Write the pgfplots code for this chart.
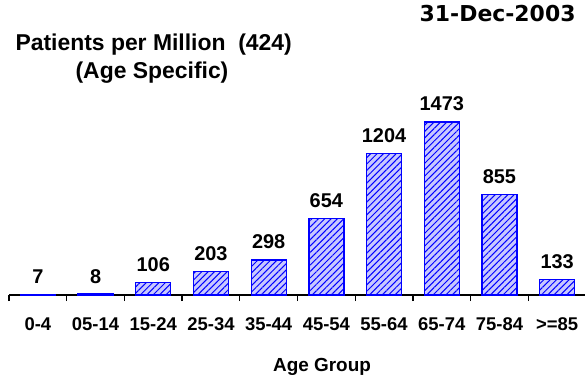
\documentclass[border=0pt]{standalone}
\usepackage{fontspec}
\setmainfont{Liberation Sans}
\newfontfamily\datefont{DejaVu Sans}
\usepackage{pgfplots}
\pgfplotsset{compat=1.18}
\usetikzlibrary{patterns.meta}
\definecolor{barblue}{RGB}{0,0,255}
\definecolor{barfill}{RGB}{200,200,255}

\pgfplotstableread{
idx value
0 7
1 8
2 106
3 203
4 298
5 654
6 1204
7 1473
8 855
9 133
}\patients

\begin{document}
\begin{tikzpicture}[x=1bp,y=1bp]
\useasboundingbox (0,0) rectangle (585,378);
\begin{axis}[
  at={(9bp,83bp)}, anchor=south west,
  scale only axis, width=577bp, height=176.2bp,
  xmin=-0.5, xmax=9.5, ymin=0, ymax=1500,
  axis x line*=bottom, axis y line=none,
  axis line style={black, line width=1.3bp},
  ybar, bar width=35bp,
  xtick={-0.5,0.5,...,9.5}, x tick label as interval,
  xticklabels={0-4,05-14,15-24,25-34,35-44,45-54,55-64,65-74,75-84,{>=85}},
  tick align=outside, major tick length=6bp,
  x tick style={black, line width=1.3bp},
  xticklabel style={font=\fontsize{18.5}{20}\selectfont\bfseries, anchor=base, yshift=-29bp},
  /pgf/number format/.cd, assume math mode=true, 1000 sep={}, /pgfplots/.cd,
  nodes near coords,
  every node near coord/.append style={font=\fontsize{20}{22}\selectfont\bfseries, anchor=base, yshift=11bp, black},
  clip=false,
]
\addplot[draw=barblue, line width=1.3bp, fill=barfill,
  postaction={pattern={Lines[angle=45, distance=4.5bp, line width=1bp]}, pattern color=barblue}]
  table[x=idx, y=value] {\patients};
\end{axis}
\node[anchor=west, font=\fontsize{23}{26}\selectfont\bfseries] at (12,333) {Patients per Million~~(424)};
\node[font=\fontsize{23}{26}\selectfont\bfseries] at (152,305) {(Age Specific)};
\node[anchor=east, font=\fontsize{22}{24}\selectfont\datefont\bfseries] at (579,364) {31-Dec-2003};
\node[font=\fontsize{19}{22}\selectfont\bfseries] at (322,11) {Age Group};
\end{tikzpicture}
\end{document}
